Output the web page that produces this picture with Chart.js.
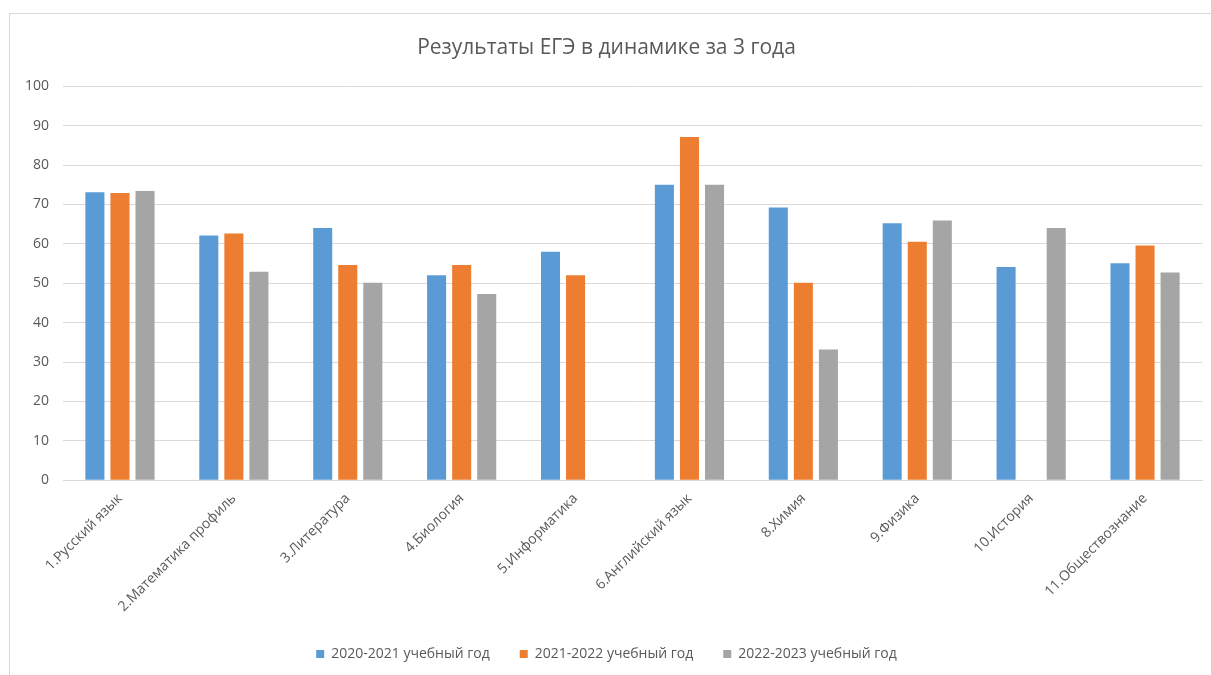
<!DOCTYPE html>
<html>
<head>
<meta charset="utf-8">
<script src="https://cdn.jsdelivr.net/npm/chart.js@4"></script>
<style>
  html, body { margin: 0; padding: 0; background: #fff; overflow: hidden; }
  #frame { position: absolute; left: 9px; top: 13px; width: 1220px; height: 700px; border: 1px solid #d9d9d9; }
  #wrap { position: absolute; left: 0; top: 0; width: 1211px; height: 675px; }
</style>
</head>
<body>
<div id="frame"></div>
<div id="wrap"><canvas id="egeChart"></canvas></div>
<script>
const subjects = ['1.Русский язык', '2.Математика профиль', '3.Литература', '4.Биология', '5.Информатика',
  '6.Английский язык', '8.Химия', '9.Физика', '10.История', '11.Обществознание'];
const year2021 = [73.1, 62.1, 64.0, 52.0, 58.0, 75.0, 69.2, 65.2, 54.1, 55.1];
const year2022 = [72.9, 62.6, 54.6, 54.6, 52.0, 87.1, 50.1, 60.5, null, 59.6];
const year2023 = [73.4, 52.9, 50.1, 47.3, null, 75.0, 33.2, 65.9, 64.0, 52.7];
const seriesNames = ['2020-2021 учебный год', '2021-2022 учебный год', '2022-2023 учебный год'];

document.addEventListener('DOMContentLoaded', function () {
  const ctx = document.getElementById('egeChart');
  Chart.defaults.font.family = '"Open Sans", sans-serif';
  Chart.defaults.color = '#595959';

  const bar = (label, data, color) => ({
    label: label,
    data: data,
    backgroundColor: color,
    borderWidth: 0,
    categoryPercentage: 0.66,
    barPercentage: 0.76
  });

  new Chart(ctx, {
    type: 'bar',
    data: {
      labels: subjects,
      datasets: [
        bar(seriesNames[0], year2021, '#5b9bd5'),
        bar(seriesNames[1], year2022, '#ed7d31'),
        bar(seriesNames[2], year2023, '#a5a5a5')
      ]
    },
    options: {
      responsive: true,
      maintainAspectRatio: false,
      animation: false,
      layout: { padding: { top: 35, left: 11, right: 9, bottom: 4 } },
      plugins: {
        title: {
          display: true,
          text: 'Результаты ЕГЭ в динамике за 3 года',
          font: { size: 21, weight: 'normal' },
          color: '#595959',
          padding: { top: 0, bottom: 26 }
        },
        legend: {
          position: 'bottom',
          labels: { boxWidth: 8, boxHeight: 8, font: { size: 14 }, padding: 30 }
        },
        tooltip: { enabled: false }
      },
      scales: {
        y: {
          min: 0,
          max: 100,
          ticks: { stepSize: 10, font: { size: 14 }, padding: 14 },
          grid: { color: '#d9d9d9', drawTicks: false },
          border: { display: false }
        },
        x: {
          ticks: { minRotation: 45, maxRotation: 45, font: { size: 14 }, padding: 2 },
          grid: { display: false },
          border: { color: '#d9d9d9' }
        }
      }
    }
  });
});
</script>
</body>
</html>
